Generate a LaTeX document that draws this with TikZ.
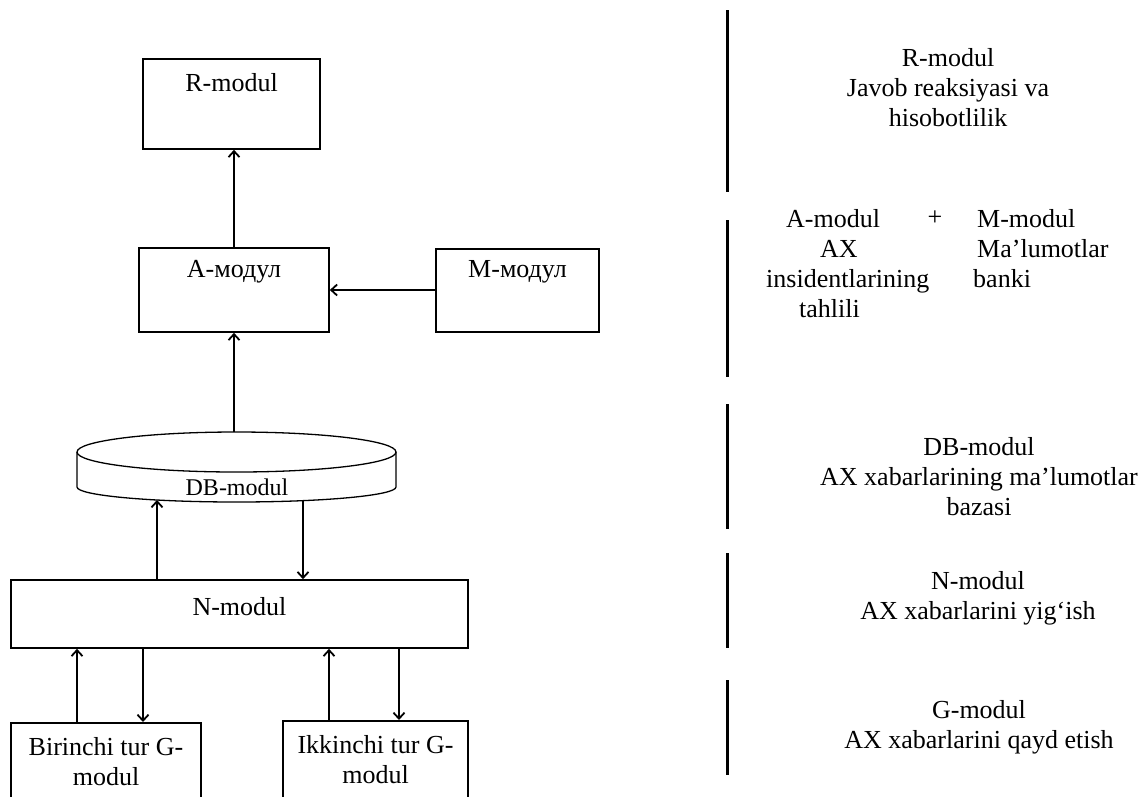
\documentclass[tikz,border=0pt]{standalone}
\usepackage{fontspec}
\setmainfont{Liberation Serif}
\usetikzlibrary{arrows.meta}
\tikzset{
  boxnode/.style={draw, line width=1.6pt, inner sep=0pt},
  txt/.style={font=\fontsize{26}{30}\selectfont, inner sep=0pt},
  boxlabel/.style={font=\fontsize{26}{30}\selectfont, inner sep=0pt, anchor=center},
  conn/.style={line width=2pt, -{Straight Barb[length=6pt,width=11pt,line width=1.8pt]}},
  sepline/.style={line width=3pt},
  rtxt/.style={font=\fontsize{26}{30}\selectfont, inner sep=0pt, align=center},
}
\begin{document}
\begin{tikzpicture}[x=1pt,y=-1pt]
\clip (0,0) rectangle (1145,796);
\fill[white] (0,0) rectangle (1145,796);

% boxes
\node[boxnode, minimum width=177pt, minimum height=90pt,
  label={[boxlabel, yshift=-24pt]north:R-modul}] (R) at (231.5,104) {};
\node[boxnode, minimum width=190pt, minimum height=84pt,
  label={[boxlabel, yshift=-25pt]north:А-модул}] (A) at (234,290) {};
\node[boxnode, minimum width=163pt, minimum height=83pt,
  label={[boxlabel, yshift=-24pt]north:М-модул}] (M) at (517.5,290.5) {};
\node[boxnode, minimum width=457pt, minimum height=68pt,
  label={[boxlabel, yshift=-27pt]north:N-modul}] (N) at (239.5,614) {};
\node[boxnode, minimum width=190pt, minimum height=100pt, anchor=north,
  label={[boxlabel, align=center, yshift=-40pt]north:Birinchi tur G-\\modul}] (G1) at (106,722) {};
\node[boxnode, minimum width=185pt, minimum height=100pt, anchor=north,
  label={[boxlabel, align=center, yshift=-40pt]north:Ikkinchi tur G-\\modul}] (G2) at (375.5,720) {};

% cylinder (DB-modul)
\draw[line width=1.3pt, fill=white] (77,452) -- (77,487)
  arc[start angle=180, end angle=0, x radius=159.5, y radius=15] -- (396,452);
\draw[line width=1.3pt, fill=white] (236.5,452) ellipse[x radius=159.5, y radius=20];
\node[txt, font=\fontsize{24}{28}\selectfont] (DB) at (237,487) {DB-modul};
\coordinate (dbtop) at (234,432);
\coordinate (dbin) at (157,500);
\coordinate (dbout) at (303,500);

% connectors
\draw[conn] (A.north) -- (A.north |- R.south);
\draw[conn] (M.west |- 0,290) coordinate (m1) -- (m1 -| A.east);
\draw[conn] (dbtop) -- (dbtop |- A.south);
\draw[conn] (dbin |- N.north) -- (dbin);
\draw[conn] (dbout) -- (dbout |- N.north);
\draw[conn] (77,0 |- G1.north) coordinate (g1) -- (g1 |- N.south);
\draw[conn] (143,0 |- N.south) coordinate (g2) -- (g2 |- G1.north);
\draw[conn] (329,0 |- G2.north) coordinate (g3) -- (g3 |- N.south);
\draw[conn] (399,0 |- N.south) coordinate (g4) -- (g4 |- G2.north);

% separator lines
\draw[sepline] (727,10) coordinate (s1a) -- (727,192) coordinate (s1b);
\draw[sepline] (727,220) coordinate (s2a) -- (727,377) coordinate (s2b);
\draw[sepline] (727,404) coordinate (s3a) -- (727,529) coordinate (s3b);
\draw[sepline] (727,553) coordinate (s4a) -- (727,648) coordinate (s4b);
\draw[sepline] (727,680) coordinate (s5a) -- (727,775) coordinate (s5b);

% right-hand texts
\node[rtxt] (tR) at (948,88) {R-modul\\Javob reaksiyasi va\\hisobotlilik};
\node[rtxt, align=left, anchor=west] (tA) at (766,264)
  {\hspace*{20pt}A-modul\\\hspace*{54pt}AX\\insidentlarining\\\hspace*{33pt}tahlili};
\node[txt] (tplus) at (935,218) {+};
\node[rtxt, align=left, anchor=west] (tM) at (973,249)
  {\hspace*{4pt}M-modul\\\hspace*{4pt}Ma’lumotlar\\banki};
\node[rtxt] (tDB) at (979,477) {DB-modul\\AX xabarlarining ma’lumotlar\\bazasi};
\node[rtxt] (tN) at (978,598.5) {N-modul\\AX xabarlarini yig‘ish};
\node[rtxt] (tG) at (979,727) {G-modul\\AX xabarlarini qayd etish};
\end{tikzpicture}
\end{document}
